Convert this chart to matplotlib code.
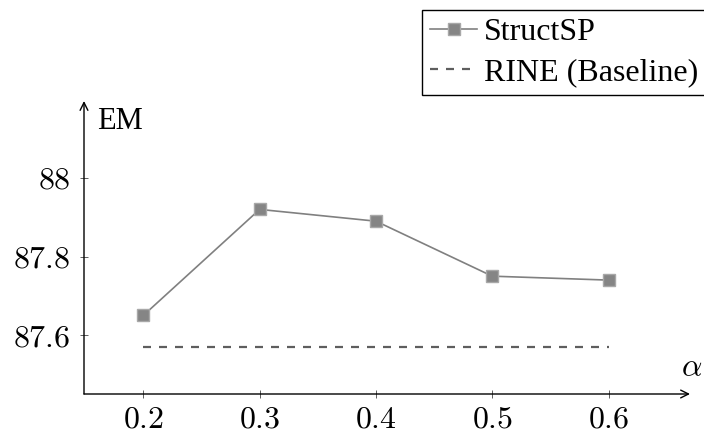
import matplotlib
matplotlib.use("Agg")
import matplotlib.pyplot as plt

plt.rcParams['font.family'] = ['Liberation Serif', 'DejaVu Serif']
plt.rcParams['mathtext.fontset'] = 'cm'

alpha = [0.2, 0.3, 0.4, 0.5, 0.6]
structsp = [87.65, 87.92, 87.89, 87.75, 87.74]
baseline = [87.57] * len(alpha)
xticks = [0.2, 0.3, 0.4, 0.5, 0.6]
yticks = [87.6, 87.8, 88.0]
ytick_labels = ["87.6", "87.8", "88"]

W, H = 704, 436
fig = plt.figure(figsize=(W / 100, H / 100), dpi=100)
ax = fig.add_axes([84 / W, (H - 394) / H, (690 - 84) / W, (394 - 101) / H])

ax.plot(alpha, structsp, color='#808080', lw=1.2, marker='s', ms=8.5,
        mfc='#858585', mec='#a8a8a8', mew=1.0, label='StructSP')
ax.plot(alpha, baseline, color='#5e5e5e', lw=1.6, linestyle=(0, (3.6, 3.6)),
        label='RINE (Baseline)')

ax.set_xlim(0.149, 0.670)
ax.set_ylim(87.45, 88.196)

for s in ax.spines.values():
    s.set_visible(False)
# axis lines with arrow heads
ax.annotate('', xy=(1, 0), xytext=(0, 0), xycoords='axes fraction',
            arrowprops=dict(arrowstyle='->', color='black', lw=1.0,
                            shrinkA=0, shrinkB=0, mutation_scale=14))
ax.annotate('', xy=(0, 1), xytext=(0, 0), xycoords='axes fraction',
            arrowprops=dict(arrowstyle='->', color='black', lw=1.0,
                            shrinkA=0, shrinkB=0, mutation_scale=14))

ax.set_xticks(xticks)
ax.set_xticklabels(["$%s$" % v for v in xticks])
ax.set_yticks(yticks)
ax.set_yticklabels(["$%s$" % v for v in ytick_labels])
ax.tick_params(direction='inout', length=6, width=0.6, color='#444444',
               labelsize=23)
ax.tick_params(axis='y', pad=7)
ax.tick_params(axis='x', pad=5)

fig.text(97 / W, 1 - 121 / H, 'EM', fontsize=22, ha='left', va='center')
fig.text(692 / W, 1 - 369 / H, r'$\alpha$', fontsize=23, ha='center', va='center')

leg = fig.legend(loc='upper right', bbox_to_anchor=(1.0 + 2 / W, 1 - 10 / H),
                 fontsize=23, frameon=True, fancybox=False, framealpha=1,
                 edgecolor='black', handlelength=1.45, handletextpad=0.22,
                 labelspacing=0.32, borderpad=0.25, borderaxespad=0)
leg.get_frame().set_linewidth(1.0)

fig.savefig('out.png', dpi=100)
